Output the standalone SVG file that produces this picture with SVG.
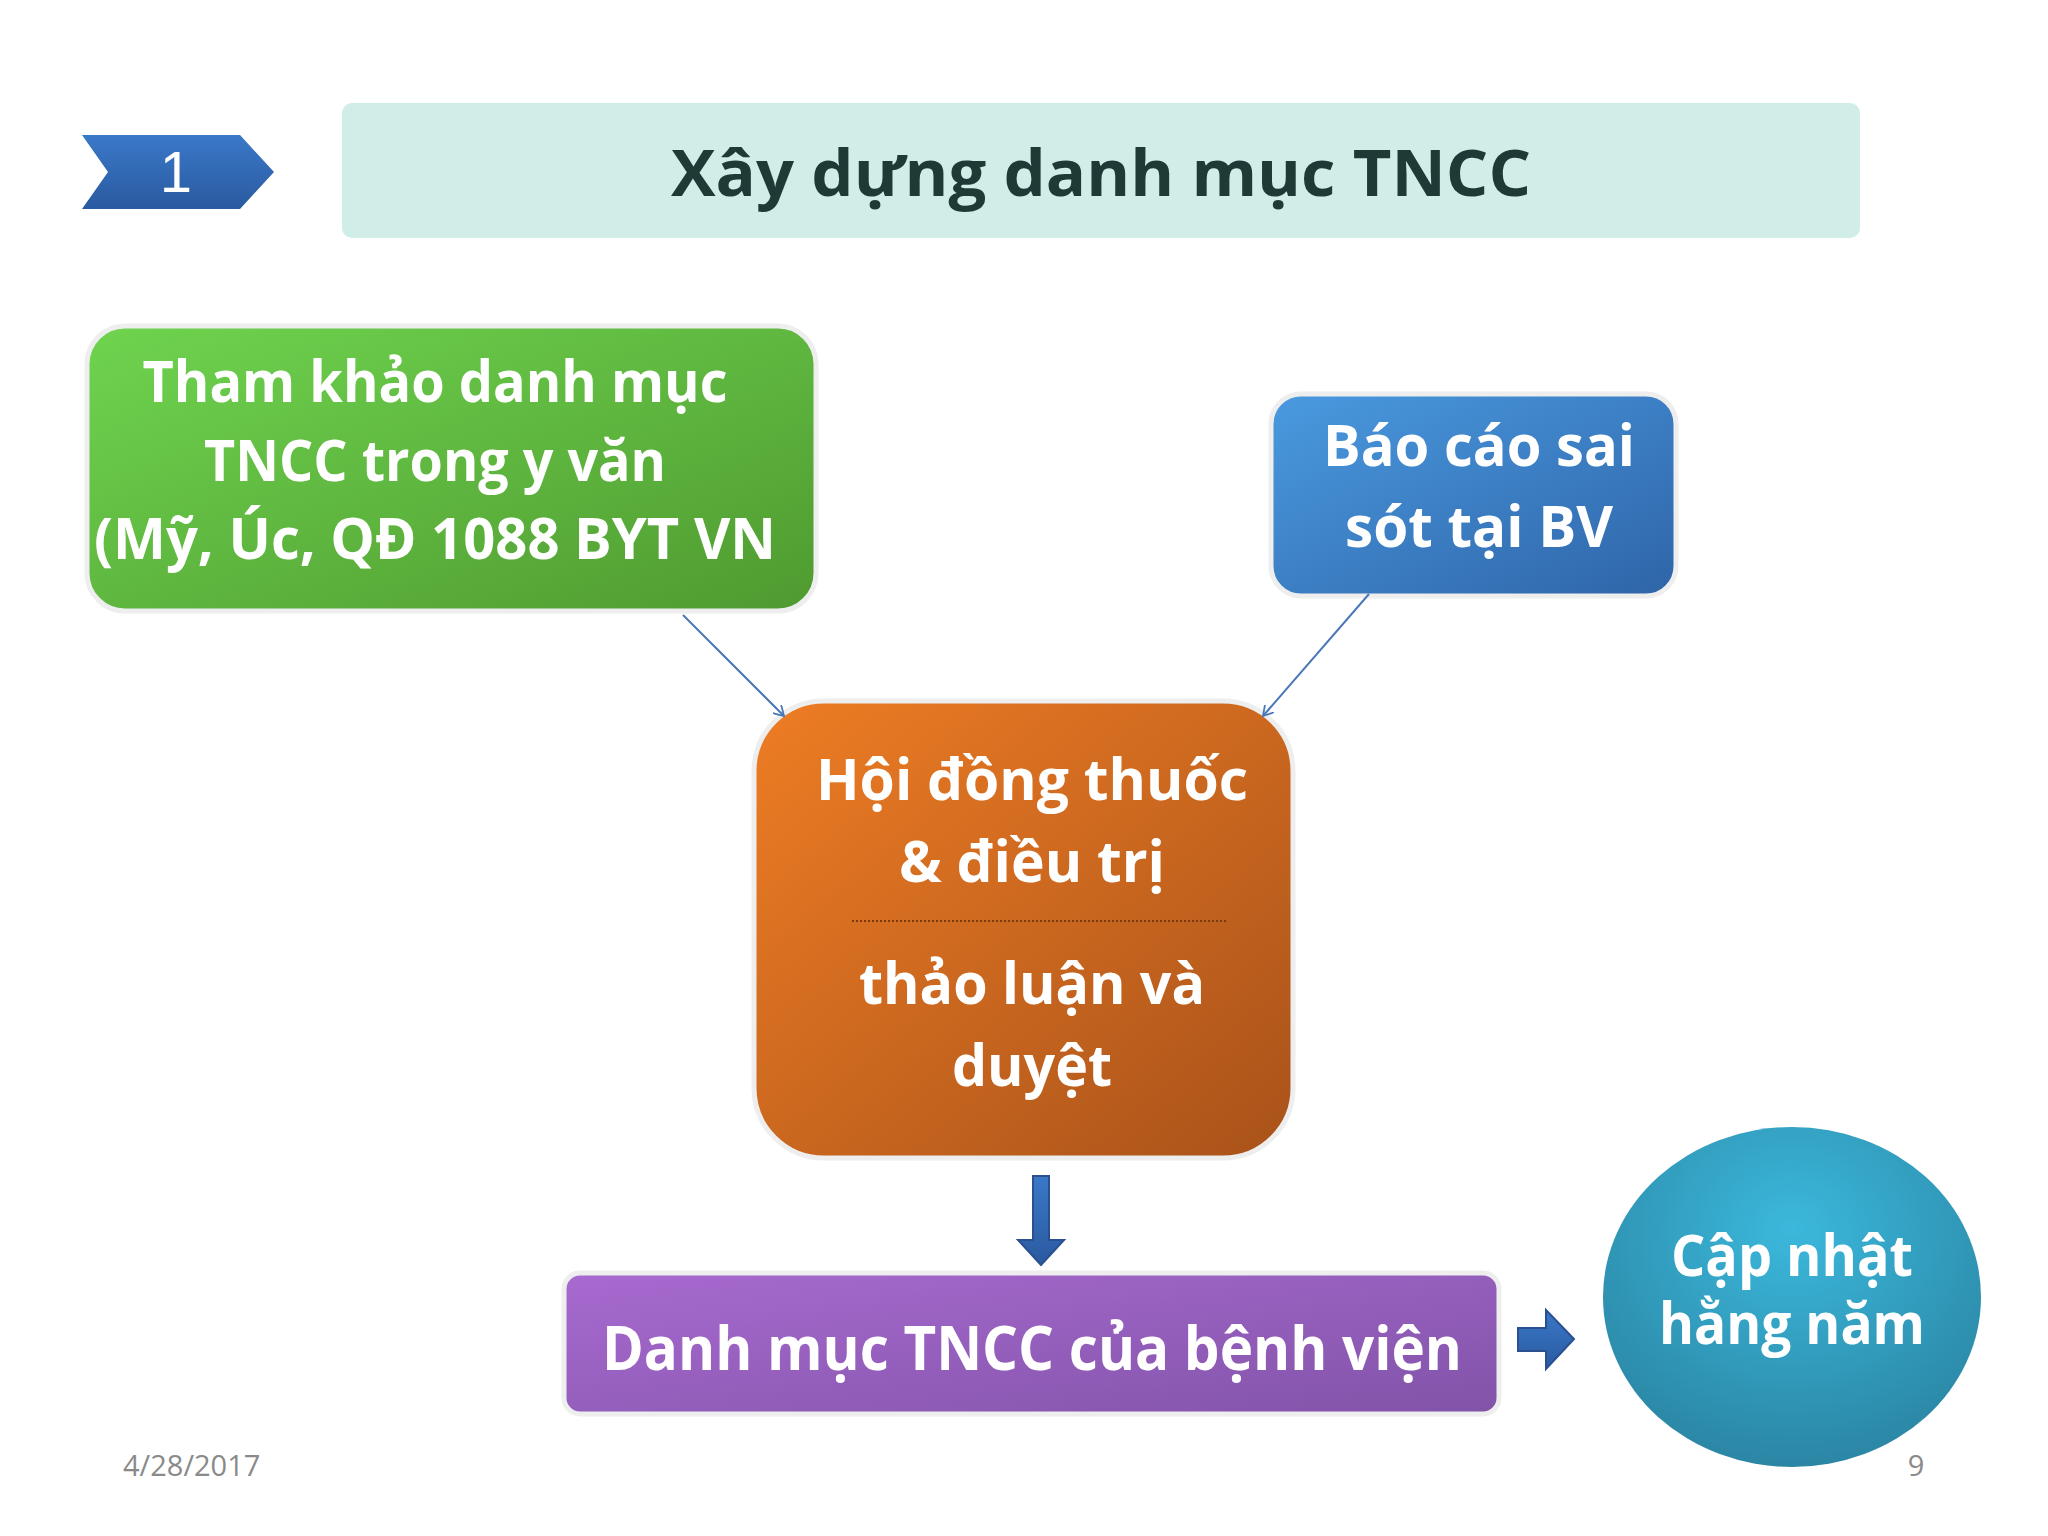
<svg xmlns="http://www.w3.org/2000/svg" width="2048" height="1536" viewBox="0 0 2048 1536">
<defs>
<linearGradient id="gG" x1="0" y1="0" x2="1" y2="1"><stop offset="0" stop-color="#6fd44f"/><stop offset="1" stop-color="#4f9a30"/></linearGradient>
<linearGradient id="gB" x1="0" y1="0" x2="1" y2="1"><stop offset="0" stop-color="#4a9ae0"/><stop offset="1" stop-color="#2f64a8"/></linearGradient>
<linearGradient id="gO" x1="0" y1="0" x2="1" y2="1"><stop offset="0" stop-color="#ee7d24"/><stop offset="1" stop-color="#a8521a"/></linearGradient>
<linearGradient id="gP" x1="0" y1="0" x2="1" y2="1"><stop offset="0" stop-color="#a86ad0"/><stop offset="1" stop-color="#8153a8"/></linearGradient>
<radialGradient id="gC" cx="0.5" cy="0.3" r="0.7"><stop offset="0" stop-color="#3bb8dc"/><stop offset="1" stop-color="#2b86a4"/></radialGradient>
<linearGradient id="gA" x1="0" y1="0" x2="0" y2="1"><stop offset="0" stop-color="#3a78c8"/><stop offset="1" stop-color="#2a5aa0"/></linearGradient>
<marker id="ah" markerWidth="12" markerHeight="12" refX="10" refY="6" orient="auto" markerUnits="userSpaceOnUse"><path d="M0,0 L10,6 L0,12" fill="none" stroke="#4a78b8" stroke-width="1.8"/></marker>
</defs>
<style>
.t{font-family:"Open Sans","Liberation Sans",sans-serif;font-weight:bold;fill:#fff;text-anchor:middle}
.box{stroke:#eeeeee;stroke-width:5}
</style>
<rect width="2048" height="1536" fill="#fff"/>
<g id="badge"><path d="M82,135 L240,135 L274,172 L240,209 L82,209 L108,172 Z" fill="url(#gA)"/><text x="176" y="192" font-family="Liberation Sans,sans-serif" font-size="58" fill="#fff" text-anchor="middle">1</text></g>
<g id="title"><rect x="342" y="103" width="1518" height="135" rx="10" fill="#d0ede8"/><text x="1101" y="196" font-family="Open Sans,Liberation Sans,sans-serif" font-weight="bold" font-size="64" fill="#1f3a36" text-anchor="middle" textLength="860" lengthAdjust="spacingAndGlyphs">Xây dựng danh mục TNCC</text></g>
<g id="green"><rect class="box" x="87" y="326" width="729" height="285" rx="38" fill="url(#gG)"/>
<text class="t" font-size="57"><tspan x="435" y="402" textLength="585" lengthAdjust="spacingAndGlyphs">Tham khảo danh mục</tspan><tspan x="435" y="481" textLength="462" lengthAdjust="spacingAndGlyphs">TNCC trong y văn</tspan><tspan x="435" y="559" textLength="682" lengthAdjust="spacingAndGlyphs">(Mỹ, Úc, QĐ 1088 BYT VN</tspan></text></g>
<g id="blue"><rect class="box" x="1271" y="394" width="405" height="202" rx="30" fill="url(#gB)"/>
<text class="t" font-size="57"><tspan x="1479" y="466" textLength="312" lengthAdjust="spacingAndGlyphs">Báo cáo sai</tspan><tspan x="1479" y="547" textLength="268" lengthAdjust="spacingAndGlyphs">sót tại BV</tspan></text></g>
<g id="orange"><rect class="box" x="754" y="701" width="539" height="457" rx="70" fill="url(#gO)"/>
<text class="t" font-size="57"><tspan x="1032" y="800" textLength="432" lengthAdjust="spacingAndGlyphs">Hội đồng thuốc</tspan><tspan x="1032" y="882" textLength="266" lengthAdjust="spacingAndGlyphs">&amp; điều trị</tspan><tspan x="1032" y="1004" textLength="346" lengthAdjust="spacingAndGlyphs">thảo luận và</tspan><tspan x="1032" y="1086" textLength="160" lengthAdjust="spacingAndGlyphs">duyệt</tspan></text>
<line x1="852" y1="921" x2="1228" y2="921" stroke="#7a3a10" stroke-width="2" stroke-dasharray="2,2"/></g>
<g id="purple"><rect class="box" x="564" y="1273" width="935" height="141" rx="16" fill="url(#gP)"/>
<text class="t" font-size="60" x="1032" y="1370" textLength="860" lengthAdjust="spacingAndGlyphs">Danh mục TNCC của bệnh viện</text></g>
<g id="circle"><ellipse cx="1792" cy="1297" rx="189" ry="170" fill="url(#gC)"/>
<text class="t" font-size="57"><tspan x="1792" y="1276" textLength="242" lengthAdjust="spacingAndGlyphs">Cập nhật</tspan><tspan x="1792" y="1344" textLength="266" lengthAdjust="spacingAndGlyphs">hằng năm</tspan></text></g>
<g id="connectors">
<line x1="683" y1="615" x2="784" y2="716" stroke="#4a78b8" stroke-width="2" marker-end="url(#ah)"/>
<line x1="1369" y1="594" x2="1263" y2="716" stroke="#4a78b8" stroke-width="2" marker-end="url(#ah)"/>
<path d="M1033,1176 L1049,1176 L1049,1240 L1064,1240 L1041,1265 L1018,1240 L1033,1240 Z" fill="url(#gA)" stroke="#2a5090" stroke-width="2"/>
<path d="M1518,1328 L1546,1328 L1546,1310 L1574,1339 L1546,1369 L1546,1351 L1518,1351 Z" fill="url(#gA)" stroke="#2a5090" stroke-width="2"/>
</g>
<text x="123" y="1476" font-family="Open Sans,Liberation Sans,sans-serif" font-size="29" fill="#8a8a8a">4/28/2017</text>
<text x="1916" y="1476" font-family="Open Sans,Liberation Sans,sans-serif" font-size="29" fill="#8a8a8a" text-anchor="middle">9</text>
</svg>
